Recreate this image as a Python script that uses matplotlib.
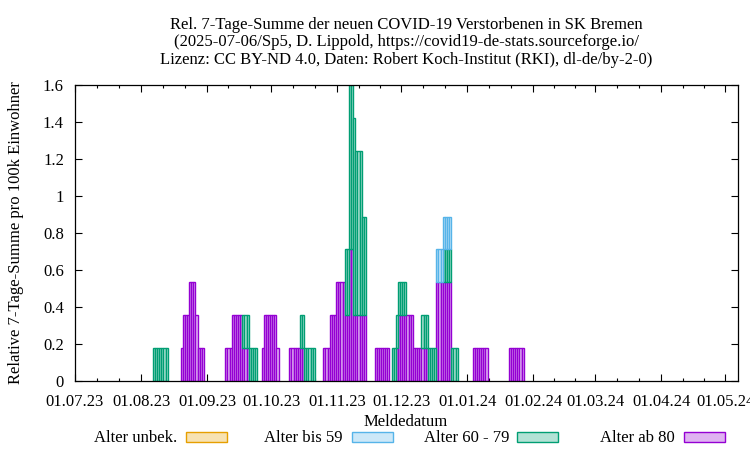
import matplotlib
matplotlib.use("Agg")
import matplotlib.pyplot as plt
import matplotlib.dates as mdates
from matplotlib.patches import Rectangle
import pandas as pd
import numpy as np

plt.rcParams['font.family'] = ['Liberation Serif', 'DejaVu Serif']

title = ("Rel. 7-Tage-Summe der neuen COVID-19 Verstorbenen in SK Bremen\n"
         "(2025-07-06/Sp5, D. Lippold, https://covid19-de-stats.sourceforge.io/\n"
         "Lizenz: CC BY-ND 4.0, Daten: Robert Koch-Institut (RKI), dl-de/by-2-0)")
ylabel = "Relative 7-Tage-Summe pro 100k Einwohner"
xlabel = "Meldedatum"
series_names = ["Alter unbek.", "Alter bis 59", "Alter 60 - 79", "Alter ab 80"]

# runs of constant 7-day-sum values (start, end inclusive, value)
a80_start = ["2023-08-20", "2023-08-21", "2023-08-24", "2023-08-27", "2023-08-28",
             "2023-09-10", "2023-09-13", "2023-09-18",
             "2023-09-27", "2023-09-28", "2023-10-04",
             "2023-10-10",
             "2023-10-26", "2023-10-29", "2023-11-01", "2023-11-05", "2023-11-07", "2023-11-09",
             "2023-11-19", "2023-11-29", "2023-11-30", "2023-12-07",
             "2023-12-18", "2024-01-04", "2024-01-21"]
a80_end = ["2023-08-20", "2023-08-23", "2023-08-26", "2023-08-27", "2023-08-30",
           "2023-09-12", "2023-09-17", "2023-09-20",
           "2023-09-27", "2023-10-03", "2023-10-04",
           "2023-10-16",
           "2023-10-28", "2023-10-31", "2023-11-04", "2023-11-06", "2023-11-08", "2023-11-14",
           "2023-11-25", "2023-11-29", "2023-12-06", "2023-12-13",
           "2023-12-24", "2024-01-10", "2024-01-27"]
a80_val = [0.178, 0.356, 0.533, 0.356, 0.178,
           0.178, 0.356, 0.178,
           0.178, 0.356, 0.178,
           0.178,
           0.178, 0.356, 0.533, 0.356, 0.711, 0.356,
           0.178, 0.178, 0.356, 0.178,
           0.533, 0.178, 0.178]

a6079_start = ["2023-08-07", "2023-09-18", "2023-10-15",
               "2023-11-05", "2023-11-07", "2023-11-09", "2023-11-10", "2023-11-13",
               "2023-11-27", "2023-12-11", "2023-12-21"]
a6079_end = ["2023-08-13", "2023-09-24", "2023-10-21",
             "2023-11-06", "2023-11-08", "2023-11-09", "2023-11-12", "2023-11-14",
             "2023-12-03", "2023-12-17", "2023-12-27"]
a6079_val = [0.178, 0.178, 0.178,
             0.356, 0.889, 1.067, 0.889, 0.533,
             0.178, 0.178, 0.178]

a59_start = ["2023-12-18"]
a59_end = ["2023-12-24"]
a59_val = [0.178]

unk_start = []
unk_end = []
unk_val = []

x_start = "2023-07-01"
x_days = 311
ytick_vals = [0, 0.2, 0.4, 0.6, 0.8, 1.0, 1.2, 1.4, 1.6]
ytick_labels = ["0", "0.2", "0.4", "0.6", "0.8", "1", "1.2", "1.4", "1.6"]

edge_cols = ["#E69F00", "#56B4E9", "#009E73", "#9400D3"]
fill_cols = ["#F7E2B2", "#CCE8F8", "#B2E2D5", "#DFB2F1"]

days = pd.date_range("2023-07-01", "2024-05-10", freq="D")


def expand(starts, ends, vals):
    s = pd.Series(0.0, index=days)
    for a, b, v in zip(starts, ends, vals):
        s.loc[pd.Timestamp(a):pd.Timestamp(b)] = v
    return s.values

y80 = expand(a80_start, a80_end, a80_val)
y6079 = expand(a6079_start, a6079_end, a6079_val)
y59 = expand(a59_start, a59_end, a59_val)
yunk = expand(unk_start, unk_end, unk_val)

FS = 12

fig = plt.figure(figsize=(7.5, 4.5), dpi=100)
ax = fig.add_axes([75 / 750, 1 - 381 / 450, (738 - 75) / 750, (381 - 85) / 450])

xd = mdates.date2num(days)
stack = [(y80, 3), (y6079, 2), (y59, 1), (yunk, 0)]
bottom = np.zeros(len(days))
for vals, ci in stack:
    m = vals > 0
    ax.bar(xd[m], vals[m], width=1.0, bottom=bottom[m], align='center',
           facecolor=fill_cols[ci], edgecolor=edge_cols[ci], linewidth=1.0, zorder=2)
    bottom = bottom + vals

x0 = mdates.date2num(pd.Timestamp(x_start))
ax.set_xlim(x0, x0 + x_days)
ax.set_ylim(0, 1.6)
ax.set_yticks(ytick_vals)
ax.set_yticklabels(ytick_labels)

months = pd.date_range("2023-07-01", "2024-05-01", freq="MS")
ax.set_xticks(mdates.date2num(months))
ax.set_xticklabels([d.strftime("%d.%m.%y") for d in months])
minors = []
for i in range(len(months) - 1):
    a = mdates.date2num(months[i]); b = mdates.date2num(months[i + 1])
    minors += [a + (b - a) / 3, a + 2 * (b - a) / 3]
ax.set_xticks(minors, minor=True)

for sp in ax.spines.values():
    sp.set_linewidth(0.9)
    sp.set_zorder(3)
ax.tick_params(axis='both', which='major', direction='in', length=5, width=0.8,
               top=True, right=True, labelsize=FS)
ax.tick_params(axis='x', which='major', pad=9)
ax.tick_params(axis='y', which='major', pad=8)
ax.tick_params(axis='x', which='minor', direction='in', length=2.5, width=0.8, top=True)
ax.tick_params(axis='y', which='minor', left=False, right=False)

fig.text(406 / 750, 1 - 17 / 450, title, ha='center', va='top', fontsize=FS,
         linespacing=1.12)
fig.text(16 / 750, 1 - 233 / 450, ylabel, ha='center', va='center', rotation=90,
         fontsize=FS)
fig.text(406 / 750, 1 - 422 / 450, xlabel, ha='center', va='center', fontsize=FS)

text_right = [177, 343, 509, 675]
box_left = [186, 352, 517, 684]
for i, name in enumerate(series_names):
    fig.text(text_right[i] / 750, 1 - 438 / 450, name, ha='right', va='center',
             fontsize=FS)
    fig.patches.append(Rectangle((box_left[i] / 750, 1 - 442 / 450), 41 / 750, 10 / 450,
                                 transform=fig.transFigure, facecolor=fill_cols[i],
                                 edgecolor=edge_cols[i], linewidth=1.0))

fig.savefig("out.png", dpi=100)
